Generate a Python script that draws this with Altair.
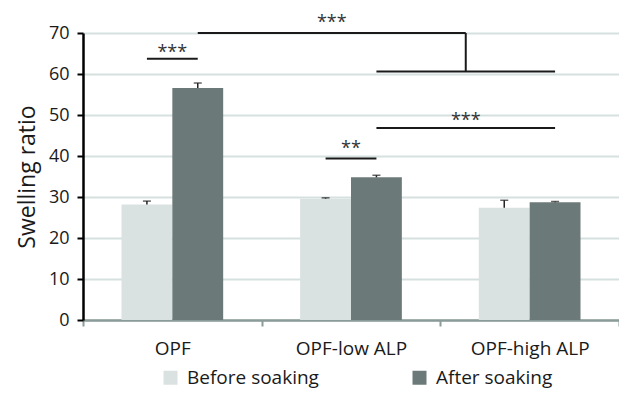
import altair as alt
import pandas as pd

# ---------------- data ----------------
categories = ["OPF", "OPF-low ALP", "OPF-high ALP"]
groups = ["Before soaking", "After soaking"]
before_vals = [28.2, 29.6, 27.4]
before_err = [0.8, 0.2, 1.8]
after_vals = [56.6, 34.8, 28.7]
after_err = [1.2, 0.5, 0.2]
colors = ["#d9e2e1", "#6b7a78"]

# pairwise significance markers (from bar -> to bar)
sig_from_cat = ["OPF", "OPF-low ALP", "OPF-low ALP"]
sig_from_grp = ["Before soaking", "Before soaking", "After soaking"]
sig_to_cat = ["OPF", "OPF-low ALP", "OPF-high ALP"]
sig_to_grp = ["After soaking", "After soaking", "After soaking"]
sig_line_y = [63.7, 39.4, 46.8]
sig_label = ["***", "**", "***"]
sig_label_y = [66.1, 42.8, 49.4]

# bracket: OPF (after) vs [OPF-low ALP (after) .. OPF-high ALP (after)]
bracket_left = ("OPF", "After soaking")
bracket_low_from = ("OPF-low ALP", "After soaking")
bracket_low_to = ("OPF-high ALP", "After soaking")
bracket_low_y = 60.6
bracket_top_y = 70.0
bracket_label = "***"
bracket_label_y = 73.3

# ---------------- layout helpers ----------------
PAD_OUT = 0.757                      # outer padding of the group offset scale
FRAC = 1.0 / (2 + 2 * PAD_OUT)       # bar width as fraction of a category band


def pos(cat, grp):
    return categories.index(cat) + 0.5 + (groups.index(grp) - 0.5) * FRAC


FONT = "Open Sans"
TXT = "#1a1a1a"
AXIS_TEAL = "#8a9b99"

rows = []
for i, c in enumerate(categories):
    rows.append({"category": c, "group": groups[0], "value": before_vals[i],
                 "upper": before_vals[i] + before_err[i]})
    rows.append({"category": c, "group": groups[1], "value": after_vals[i],
                 "upper": after_vals[i] + after_err[i]})
bars_df = pd.DataFrame(rows)

rule_rows, text_rows = [], []
for i in range(len(sig_label)):
    x1 = pos(sig_from_cat[i], sig_from_grp[i])
    x2 = pos(sig_to_cat[i], sig_to_grp[i])
    rule_rows.append({"x": x1, "x2": x2, "y": sig_line_y[i], "y2": sig_line_y[i]})
    text_rows.append({"x": (x1 + x2) / 2, "y": sig_label_y[i], "label": sig_label[i]})

lo1 = pos(*bracket_low_from)
lo2 = pos(*bracket_low_to)
mid = (lo1 + lo2) / 2
left = pos(*bracket_left)
rule_rows.append({"x": lo1, "x2": lo2, "y": bracket_low_y, "y2": bracket_low_y})
rule_rows.append({"x": mid, "x2": mid, "y": bracket_low_y, "y2": bracket_top_y})
rule_rows.append({"x": left, "x2": mid, "y": bracket_top_y, "y2": bracket_top_y})
text_rows.append({"x": (left + mid) / 2, "y": bracket_label_y, "label": bracket_label})

rules_df = pd.DataFrame(rule_rows)
texts_df = pd.DataFrame(text_rows)

# ---------------- scales / axes ----------------
y_scale = alt.Scale(domain=[0, 70], nice=False)
y_axis = alt.Axis(
    title="Swelling ratio", values=list(range(0, 71, 10)), grid=True,
    gridColor="#d6e0df", gridWidth=2, domainColor="black", domainWidth=2.5,
    tickColor="black", tickWidth=2, tickSize=6, labelFont=FONT, labelFontSize=18,
    labelColor=TXT, labelPadding=8, titleFont=FONT, titleFontSize=23,
    titleFontWeight="normal", titleColor=TXT, titlePadding=9,
)

x_band = alt.X("category:N", sort=categories, axis=None,
               scale=alt.Scale(paddingInner=0, paddingOuter=0))
x_off = alt.XOffset("group:N", sort=groups,
                    scale=alt.Scale(paddingInner=0, paddingOuter=PAD_OUT))

base = alt.Chart(bars_df)
bars = base.mark_bar().encode(
    x=x_band, xOffset=x_off,
    y=alt.Y("value:Q", scale=y_scale, axis=y_axis),
    color=alt.Color(
        "group:N", sort=groups, scale=alt.Scale(domain=groups, range=colors),
        legend=alt.Legend(
            title=None, orient="none", legendX=78, legendY=335,
            direction="horizontal", columns=2, symbolType="square",
            symbolSize=196, symbolStrokeWidth=0, labelFont=FONT,
            labelFontSize=19, labelColor=TXT, columnPadding=91, labelOffset=7,
        ),
    ),
)
err = base.mark_rule(color="#222222", strokeWidth=1.5).encode(
    x=x_band, xOffset=x_off,
    y=alt.Y("value:Q", scale=y_scale, title="Swelling ratio"), y2="upper:Q",
)
caps = base.mark_tick(orient="horizontal", size=8, thickness=1.5, color="#222222").encode(
    x=x_band, xOffset=x_off,
    y=alt.Y("upper:Q", scale=y_scale, title="Swelling ratio"),
)
bar_layer = alt.layer(bars, err, caps)

n = len(categories)
tick_vals = [k / 2 for k in range(0, 2 * n + 1)]
label_expr = ("datum.value % 1 == 0.5 ? " + str(categories) +
              "[floor(datum.value)] : ''")
x_quant_scale = alt.Scale(domain=[0, n], nice=False, zero=False)
x_quant_axis = alt.Axis(
    orient="bottom", title=None, values=tick_vals, labelExpr=label_expr,
    grid=False, domainColor=AXIS_TEAL, domainWidth=2.5,
    tickColor={"condition": {"test": "datum.value % 1 != 0", "value": "transparent"},
               "value": AXIS_TEAL},
    tickWidth=2, tickSize=6, labelFont=FONT, labelFontSize=19, labelColor=TXT,
    labelPadding=13, labelFlush=False, labelOverlap=False,
)

rules = alt.Chart(rules_df).mark_rule(color=TXT, strokeWidth=2).encode(
    x=alt.X("x:Q", scale=x_quant_scale, axis=x_quant_axis), x2="x2:Q",
    y=alt.Y("y:Q", scale=y_scale, title="Swelling ratio"), y2="y2:Q",
)
texts = alt.Chart(texts_df).mark_text(
    font=FONT, fontSize=18, color="#333333", baseline="middle", dy=4
).encode(
    x=alt.X("x:Q", scale=x_quant_scale),
    y=alt.Y("y:Q", scale=y_scale, title="Swelling ratio"),
    text="label:N",
)
ann_layer = alt.layer(rules, texts)

chart = (
    alt.layer(bar_layer, ann_layer)
    .resolve_scale(x="independent")
    .properties(
        width=536, height=287,
        autosize=alt.AutoSizeParams(type="none"),
        padding={"left": 75, "top": 25, "right": 0, "bottom": 71},
    )
    .configure_view(stroke=None)
)

chart.save("out.html", embed_options={"renderer": "svg", "actions": False})
